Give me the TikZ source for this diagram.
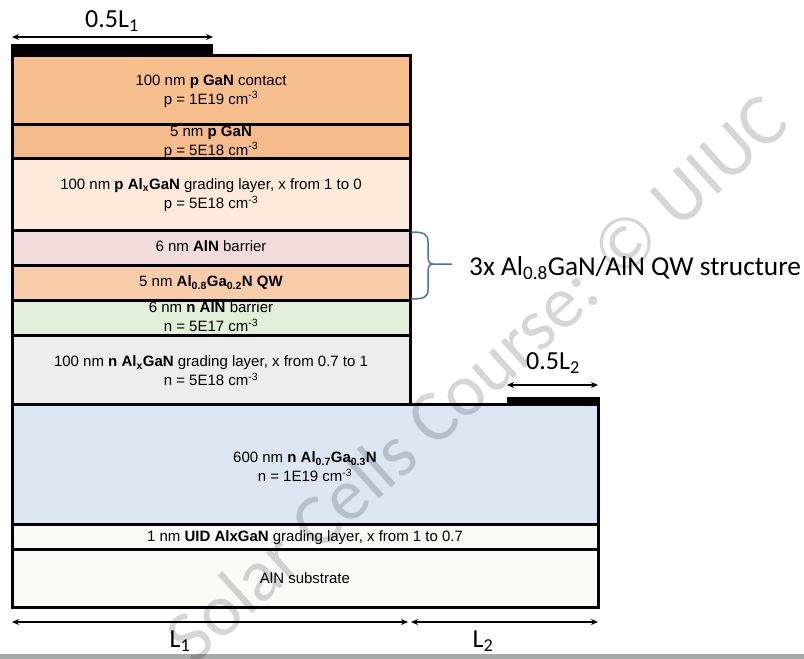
\documentclass[tikz,border=0pt]{standalone}
\usepackage{fontspec}
\setmainfont{Liberation Sans}
\newfontfamily\calfont{Carlito}
\usetikzlibrary{arrows.meta}
\definecolor{cA}{RGB}{247,190,142}
\definecolor{cB}{RGB}{245,187,138}
\definecolor{cC}{RGB}{253,234,218}
\definecolor{cD}{RGB}{242,220,219}
\definecolor{cE}{RGB}{250,205,170}
\definecolor{cF}{RGB}{226,239,217}
\definecolor{cG}{RGB}{237,237,237}
\definecolor{cH}{RGB}{220,231,243}
\definecolor{cI}{RGB}{248,252,245}
\definecolor{braceblue}{RGB}{68,114,196}
\definecolor{bargray}{RGB}{165,170,170}
\begin{document}
\begin{tikzpicture}[x=1pt,y=-1pt,
  layer/.style={draw=black,line width=3pt},
  lbl/.style={font=\fontsize{15}{19}\selectfont,align=center,inner sep=0pt},
  dimline/.style={{Stealth[length=7pt,width=6pt]}-{Stealth[length=7pt,width=6pt]},line width=1.5pt},
  big/.style={font=\calfont\fontsize{26}{28}\selectfont,inner sep=0pt}]
\useasboundingbox (0,0) rectangle (804,659);
\fill[white] (0,0) rectangle (804,659);
\fill[bargray] (0,654) rectangle (804,659);
% layers
\filldraw[fill=cH,layer] (12,404) rectangle (598,524);
\filldraw[fill=cI,layer] (12,524) rectangle (598,549);
\filldraw[fill=cI,layer] (12,549) rectangle (598,607);
\filldraw[fill=cA,layer] (12,55) rectangle (410,124);
\filldraw[fill=cB,layer] (12,124) rectangle (410,158);
\filldraw[fill=cC,layer] (12,158) rectangle (410,230);
\filldraw[fill=cD,layer] (12,230) rectangle (410,265);
\filldraw[fill=cE,layer] (12,265) rectangle (410,300);
\filldraw[fill=cF,layer] (12,300) rectangle (410,335);
\filldraw[fill=cG,layer] (12,335) rectangle (410,404);
% contacts
\fill[black] (10.5,44) rectangle (213,55);
\fill[black] (507,397) rectangle (599.5,405);
% layer texts
\node[lbl] (t1) at (211,91) {100 nm \textbf{p GaN} contact\\p = 1E19 cm\textsuperscript{-3}};
\node[lbl] (t2) at (211,142) {5 nm \textbf{p GaN}\\p = 5E18 cm\textsuperscript{-3}};
\node[lbl] (t3) at (211,195) {100 nm \textbf{p Al\textsubscript{x}GaN} grading layer, x from 1 to 0\\p = 5E18 cm\textsuperscript{-3}};
\node[lbl] (t4) at (211,246) {6 nm \textbf{AlN} barrier};
\node[lbl] (t5) at (211,283) {5 nm \textbf{Al\textsubscript{0.8}Ga\textsubscript{0.2}N QW}};
\node[lbl] (t6) at (211,317) {6 nm \textbf{n AlN} barrier\\n = 5E17 cm\textsuperscript{-3}};
\node[lbl] (t7) at (211,371) {100 nm \textbf{n Al\textsubscript{x}GaN} grading layer, x from 0.7 to 1\\n = 5E18 cm\textsuperscript{-3}};
\node[lbl] (t8) at (305,467) {600 nm \textbf{n Al\textsubscript{0.7}Ga\textsubscript{0.3}N}\\n = 1E19 cm\textsuperscript{-3}};
\node[lbl] (t9) at (305,538) {1 nm \textbf{UID AlxGaN} grading layer, x from 1 to 0.7};
\node[lbl] (t10) at (305,578) {AlN substrate};
% dimension arrows
\coordinate (a1) at (12,37); \coordinate (a2) at (213,37);
\coordinate (b1) at (507,385); \coordinate (b2) at (598,385);
\coordinate (c1) at (12,622); \coordinate (c2) at (408,622);
\coordinate (d1) at (411,622); \coordinate (d2) at (598,622);
\draw[dimline] (a1) -- (a2);
\draw[dimline] (b1) -- (b2);
\draw[dimline] (c1) -- (c2);
\draw[dimline] (d1) -- (d2);
\node[big] (l05a) at (112,21) {0.5L\textsubscript{1}};
\node[big] (l05b) at (553,363) {0.5L\textsubscript{2}};
\node[big] (lL1) at (180,641) {L\textsubscript{1}};
\node[big] (lL2) at (483,641) {L\textsubscript{2}};
% brace
\coordinate (br1) at (411,232);
\coordinate (br2) at (411,299);
\coordinate (brt) at (452,264);
\draw[braceblue,line width=1.5pt,line join=round]
  (br1) .. controls (424,232) and (428,234) .. (428,242) -- (428,256)
  .. controls (428,262) and (430,264) .. (433,264) -- (brt)
  (433,264) .. controls (430,264) and (428,266) .. (428,272) -- (428,290)
  .. controls (428,297) and (424,299) .. (br2);
\node[big,font=\calfont\fontsize{27.3}{29}\selectfont,anchor=west] (qw) at (469,268) {3x Al\textsubscript{0.8}GaN/AlN QW structure};
% watermark
\node[font=\calfont\fontsize{74}{74}\selectfont,rotate=42,text=black,text opacity=0.16,inner sep=0pt] (wm) at (476,378) {Solar Cells Course: © UIUC};
\end{tikzpicture}
\end{document}
